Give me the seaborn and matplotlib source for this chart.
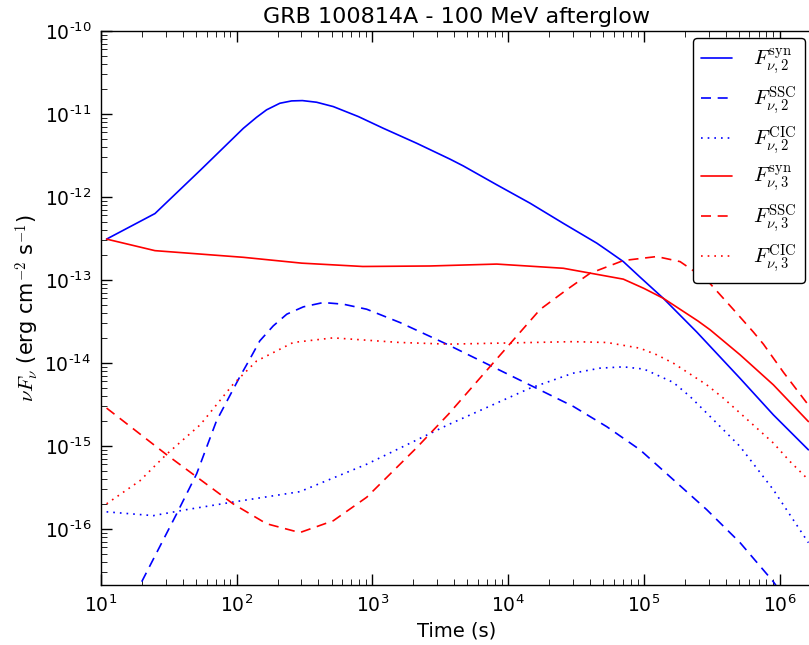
import matplotlib
matplotlib.use("Agg")
import matplotlib.pyplot as plt
import matplotlib.ticker as mticker
import numpy as np
import seaborn as sns

# synchrotron, stage 2 (blue solid)
t_syn2 = [11, 25, 54, 112, 140, 166, 208, 254, 305, 388, 515, 787, 1204, 2120, 3733, 4677, 8240, 14500, 25500,
          45000, 53300, 70600, 93700, 139000, 245400, 511500, 900000, 1.63e6]
f_syn2 = [3.1e-13, 6.3e-13, 2.1e-12, 6.71e-12, 9.1e-12, 1.12e-11, 1.345e-11, 1.435e-11, 1.448e-11, 1.383e-11,
          1.226e-11, 9.3e-12, 6.71e-12, 4.43e-12, 2.85e-12, 2.36e-12, 1.4e-12, 8.4e-13, 4.8e-13, 2.77e-13,
          2.29e-13, 1.66e-13, 1.08e-13, 6.0e-14, 2.35e-14, 6.5e-15, 2.36e-15, 8.95e-16]

# SSC, stage 2 (blue dashed)
t_ssc2 = [18, 19.4, 36, 50.7, 71, 105, 125, 148, 186, 234, 310, 434, 611, 907, 1597, 3527, 17200, 30240,
          53300, 93700, 165000, 290500, 511500, 900000, 1.05e6]
f_ssc2 = [1.5e-17, 2.1e-17, 1.5e-16, 4.6e-16, 2.0e-15, 6.7e-15, 1.11e-14, 1.84e-14, 2.79e-14, 3.86e-14,
          4.73e-14, 5.33e-14, 5.09e-14, 4.43e-14, 3.06e-14, 1.68e-14, 4.7e-15, 2.98e-15, 1.7e-15, 8.95e-16,
          3.9e-16, 1.7e-16, 6.8e-17, 2.3e-17, 1.6e-17]

# CIC, stage 2 (blue dotted)
t_cic2 = [11, 24.3, 42.6, 94, 292, 908, 3630, 14500, 30000, 47500, 70600, 100300, 165000, 218800, 290500,
          385600, 511500, 900000, 1.19e6, 1.63e6]
f_cic2 = [1.6e-16, 1.44e-16, 1.7e-16, 2.1e-16, 2.8e-16, 6.0e-16, 1.8e-15, 4.95e-15, 7.5e-15, 8.63e-15,
          8.95e-15, 8.4e-15, 5.8e-15, 3.93e-15, 2.48e-15, 1.56e-15, 9.8e-16, 2.95e-16, 1.48e-16, 6.8e-17]

# synchrotron, stage 3 (red solid)
t_syn3 = [11, 25, 112, 302, 850, 2650, 8240, 25500, 70600, 100000, 139000, 250000, 307800, 511500, 900000,
          1.63e6]
f_syn3 = [3.1e-13, 2.25e-13, 1.87e-13, 1.59e-13, 1.45e-13, 1.47e-13, 1.55e-13, 1.38e-13, 1.02e-13, 7.9e-14,
          6.0e-14, 3.2e-14, 2.5e-14, 1.25e-14, 5.43e-15, 1.96e-15]

# SSC, stage 3 (red dashed)
t_ssc3 = [11, 30.5, 94, 166, 292, 515, 908, 2120, 3630, 7350, 17200, 27000, 40130, 70630, 124500, 184800,
          290500, 456600, 641000, 760000, 1.067e6, 1.63e6]
f_ssc3 = [2.85e-15, 7.8e-16, 2.0e-16, 1.15e-16, 9.0e-17, 1.25e-16, 2.4e-16, 9.5e-16, 2.4e-15, 9.0e-15, 4.4e-14,
          7.6e-14, 1.2e-13, 1.71e-13, 1.91e-13, 1.66e-13, 1.0e-13, 4.4e-14, 2.35e-14, 1.68e-14, 7.7e-15,
          3.1e-15]

# CIC, stage 3 (red dotted)
t_cic3 = [11, 19.4, 30.4, 54, 94, 140, 261, 513, 1585, 3630, 30000, 53300, 74800, 93700, 124500, 165000,
          290500, 385600, 511500, 900000, 1.19e6, 1.63e6]
f_cic3 = [2.0e-16, 3.8e-16, 7.9e-16, 1.8e-15, 5.5e-15, 1.05e-14, 1.76e-14, 2.0e-14, 1.76e-14, 1.68e-14, 1.8e-14,
          1.76e-14, 1.6e-14, 1.5e-14, 1.25e-14, 9.9e-15, 5.43e-15, 3.75e-15, 2.48e-15, 1.08e-15, 6.5e-16,
          3.9e-16]

series = [
    (t_syn2, f_syn2, "blue", "-", r"$F_{\nu,2}^{\rm syn}$"),
    (t_ssc2, f_ssc2, "blue", (0, (6, 4)), r"$F_{\nu,2}^{\rm SSC}$"),
    (t_cic2, f_cic2, "blue", (0, (1, 3)), r"$F_{\nu,2}^{\rm CIC}$"),
    (t_syn3, f_syn3, "red", "-", r"$F_{\nu,3}^{\rm syn}$"),
    (t_ssc3, f_ssc3, "red", (0, (6, 4)), r"$F_{\nu,3}^{\rm SSC}$"),
    (t_cic3, f_cic3, "red", (0, (1, 3)), r"$F_{\nu,3}^{\rm CIC}$"),
]

sns.set_style("ticks")
plt.rcParams.update({
    "font.family": ["DejaVu Sans"],
    "font.size": 14,
    "mathtext.fontset": "cm",
    "text.color": "black",
    "axes.labelcolor": "black",
    "xtick.color": "black",
    "ytick.color": "black",
    "xtick.direction": "in",
    "ytick.direction": "in",
    "xtick.top": True,
    "ytick.right": False,
    "xtick.major.size": 8,
    "ytick.major.size": 8,
    "xtick.minor.size": 4,
    "ytick.minor.size": 4,
    "xtick.major.width": 1.0,
    "ytick.major.width": 1.0,
    "axes.linewidth": 1.0,
    "axes.edgecolor": "black",
})

fig = plt.figure(figsize=(8.09, 6.45), dpi=100)
ax = fig.add_axes([0.1248, 0.093, 1.004 - 0.1248, 0.952 - 0.093])

for t, f, color, ls, label in series:
    sns.lineplot(x=t, y=f, ax=ax, color=color, linestyle=ls, linewidth=1.2, label=label,
                 estimator=None, sort=False)

ax.set_xscale("log")
ax.set_yscale("log")
ax.set_xlim(10, 1.74e6)
ax.set_ylim(2.1e-17, 1e-10)

# hyphen-style exponent, like the old matplotlib tick labels
fmt = mticker.FuncFormatter(
    lambda v, pos: r"$\mathregular{10^{%s}}$" % str(int(round(np.log10(v)))).replace("-", "\u2010"))
ax.xaxis.set_major_formatter(fmt)
ax.yaxis.set_major_formatter(fmt)
ax.xaxis.set_major_locator(mticker.LogLocator(base=10, numticks=20))
ax.yaxis.set_major_locator(mticker.LogLocator(base=10, numticks=20))
ax.xaxis.set_minor_locator(mticker.LogLocator(base=10, subs=np.arange(2, 10), numticks=50))
ax.yaxis.set_minor_locator(mticker.LogLocator(base=10, subs=np.arange(2, 10), numticks=50))
ax.xaxis.set_minor_formatter(mticker.NullFormatter())
ax.yaxis.set_minor_formatter(mticker.NullFormatter())
ax.tick_params(axis="both", which="major", labelsize=13.5, pad=7)

ax.set_xlabel("Time (s)", fontsize=14)
ax.set_ylabel(r"$\nu F_\nu$ (erg cm$^{-2}$ s$^{-1}$)", fontsize=15, labelpad=2)
ax.set_title("GRB 100814A - 100 MeV afterglow", fontsize=16)

leg = ax.legend(loc="upper right", bbox_to_anchor=(805 / 809, 1 - 38 / 645), bbox_transform=fig.transFigure,
                borderaxespad=0, fontsize=15, handlelength=1.5, handletextpad=1.0, labelspacing=0.35,
                fancybox=True, framealpha=1, edgecolor="black")
leg.get_frame().set_linewidth(1.0)

fig.savefig("out.png", dpi=100, facecolor="white")
